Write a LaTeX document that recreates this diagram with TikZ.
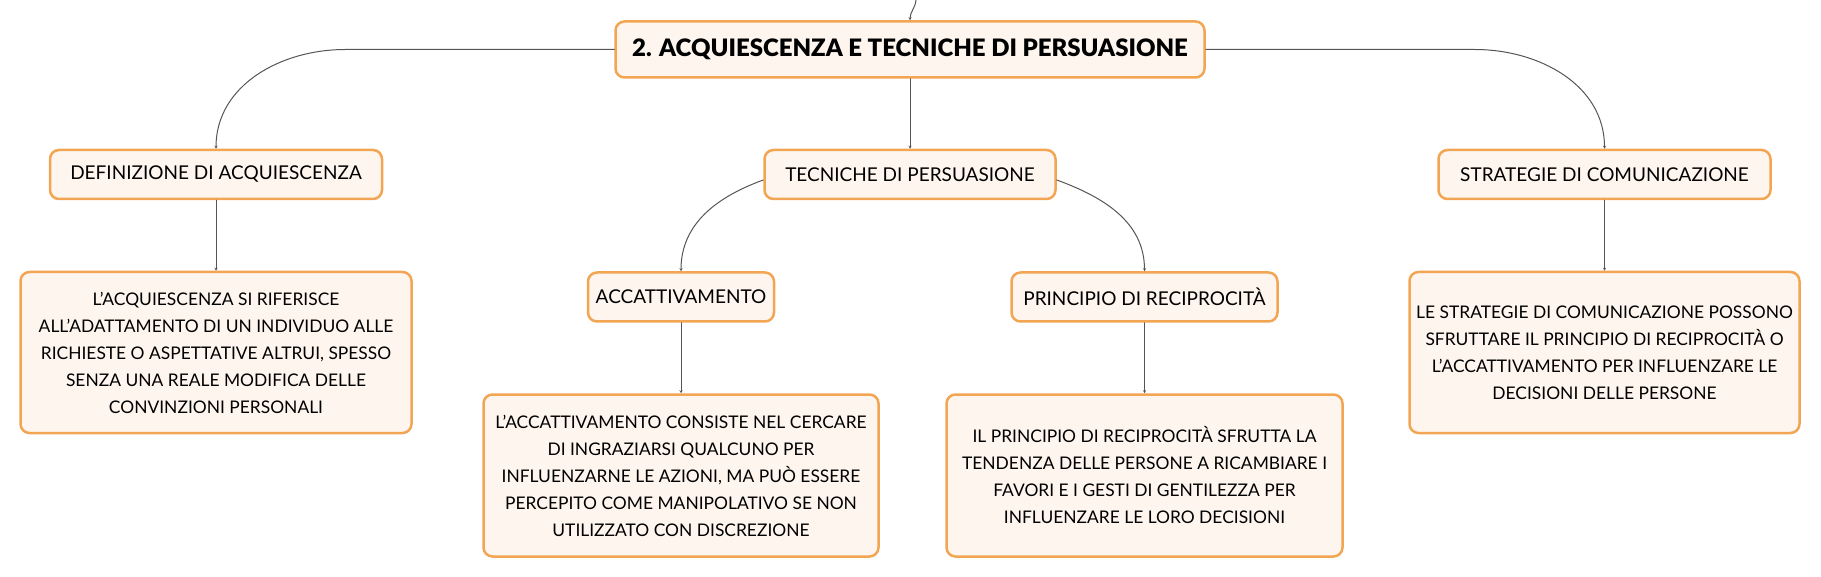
\documentclass[tikz,border=0pt]{standalone}
\usepackage{fontspec}
\setmainfont{Lato}
\newfontfamily\titolofont{Lato Black}
\usetikzlibrary{arrows.meta}
\definecolor{bordo}{HTML}{F2A552}
\definecolor{fondo}{HTML}{FEF6EE}
\definecolor{linea}{HTML}{555555}
\begin{document}
\begin{tikzpicture}[x=1pt,y=1pt,line join=round,line cap=round,>={Stealth[length=3pt,width=3pt]},
	nodo/.style={draw=bordo,fill=fondo,line width=2.5pt,rounded corners=9pt,align=center,inner sep=0pt},
	titolo/.style={nodo,minimum width=589,minimum height=56,font=\fontsize{24}{30}\titolofont},
	ramo/.style={nodo,minimum height=49,font=\fontsize{19}{24}\selectfont},
	testo/.style={nodo,minimum height=161,font=\fontsize{17.4}{27}\selectfont},
	conn/.style={draw=linea,line width=1pt,->}]
	\useasboundingbox (0,0) rectangle (1821,-577);
	\node[titolo] (main) at (910,-49.5) {2. ACQUIESCENZA E TECNICHE DI PERSUASIONE};
	\node[ramo,minimum width=332] (def) at (216,-174.5) {DEFINIZIONE DI ACQUIESCENZA};
	\node[ramo,minimum width=291] (tec) at (910,-174.5) {TECNICHE DI PERSUASIONE};
	\node[ramo,minimum width=332] (str) at (1604.5,-174.5) {STRATEGIE DI COMUNICAZIONE};
	\node[ramo,minimum width=186] (acc) at (681,-297) {ACCATTIVAMENTO};
	\node[ramo,minimum width=266] (pri) at (1144.5,-297) {PRINCIPIO DI RECIPROCITÀ};
	\node[testo,minimum width=391] (defdesc) at (216,-352.5) {L'ACQUIESCENZA SI RIFERISCE\\ALL'ADATTAMENTO DI UN INDIVIDUO ALLE\\RICHIESTE O ASPETTATIVE ALTRUI, SPESSO\\SENZA UNA REALE MODIFICA DELLE\\CONVINZIONI PERSONALI};
	\node[testo,minimum width=390] (strdesc) at (1604.5,-352.5) {LE STRATEGIE DI COMUNICAZIONE POSSONO\\SFRUTTARE IL PRINCIPIO DI RECIPROCITÀ O\\L'ACCATTIVAMENTO PER INFLUENZARE LE\\DECISIONI DELLE PERSONE};
	\node[testo,minimum width=395,minimum height=162] (accdesc) at (681,-475.5) {L'ACCATTIVAMENTO CONSISTE NEL CERCARE\\DI INGRAZIARSI QUALCUNO PER\\INFLUENZARNE LE AZIONI, MA PUÒ ESSERE\\PERCEPITO COME MANIPOLATIVO SE NON\\UTILIZZATO CON DISCREZIONE};
	\node[testo,minimum width=396,minimum height=162] (pridesc) at (1144.5,-475.5) {IL PRINCIPIO DI RECIPROCITÀ SFRUTTA LA\\TENDENZA DELLE PERSONE A RICAMBIARE I\\FAVORI E I GESTI DI GENTILEZZA PER\\INFLUENZARE LE LORO DECISIONI};
	\coordinate (su) at (916,0);\coordinate (gomitos) at (345,-49.5);\coordinate (gomitod) at (1475,-49.5);
	\draw[conn] (su) to[out=-95,in=90] (main.north);
	\draw[conn] (main.west)--(gomitos) to[out=180,in=90] (def.north);
	\draw[conn] (main.east)--(gomitod) to[out=0,in=90] (str.north);
	\draw[conn] (main.south)--(tec.north);
	\draw[conn] (tec.west|-0,-180) to[out=200,in=90] (acc.north);
	\draw[conn] (tec.east|-0,-180) to[out=-20,in=90] (pri.north);
	\draw[conn] (def.south)--(defdesc.north);\draw[conn] (str.south)--(strdesc.north);
	\draw[conn] (acc.south)--(accdesc.north);\draw[conn] (pri.south)--(pridesc.north);
\end{tikzpicture}
\end{document}
